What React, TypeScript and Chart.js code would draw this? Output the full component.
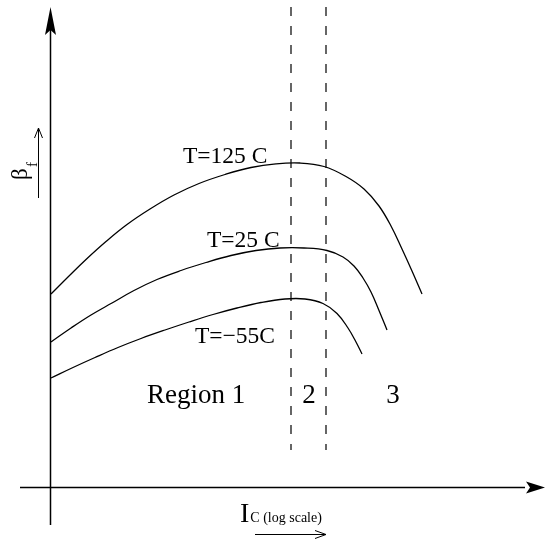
import { useEffect, useRef } from "react";
import { Chart, registerables } from "chart.js";

Chart.register(...registerables);

// Collector current (log axis, arbitrary units) and current gain for each temperature curve
const icHot = [0.2, 3.6, 7.2, 11.2, 15.4, 20, 24.8, 29.8, 35, 40.2, 45.2, 50, 54.8, 59.2, 62.8, 65.8, 68.2, 70.4, 72.4, 74.4];
const betaHot = [38.6, 42, 45.5, 49.1, 52.5, 55.6, 58.4, 60.7, 62.5, 63.9, 64.64, 64.8, 64.1, 62.1, 59.6, 56.2, 52.2, 47.6, 43.2, 38.6];

const icRoom = [0.2, 4.2, 8.2, 12.4, 16.8, 21.4, 26.2, 31.2, 36.2, 41.2, 46, 50.8, 55.4, 58.6, 60.8, 62.6, 64.2, 65.8, 67.4];
const betaRoom = [29, 31.8, 34.4, 36.8, 39.3, 41.5, 43.3, 44.9, 46.3, 47.3, 47.8, 47.8, 47.3, 46, 44.2, 41.8, 39, 35.3, 31.4];

const icCold = [0.2, 4.6, 9, 13.6, 18.2, 23, 27.8, 32.6, 37.4, 42.2, 47, 51, 54.6, 57.4, 59.6, 61.2, 62.4];
const betaCold = [21.8, 23.9, 25.9, 27.9, 29.7, 31.4, 33, 34.5, 35.8, 36.9, 37.6, 37.6, 36.7, 34.7, 31.8, 29, 26.6];

// Region boundaries on the Ic axis and the vertical extent of the dashed markers
const regionBounds = [48.2, 55.2];
const boundTop = 96;
const boundBottom = 7.4;

const curveLabels = ["T=125 C", "T=25 C", "T=\u221255C"];
const regionLabels = ["Region 1", "2", "3"];

const SERIF = '"Liberation Serif", "Times New Roman", serif';

const toPoints = (xs: number[], ys: number[]) => xs.map((x, i) => ({ x, y: ys[i] }));

const sketchPlugin = {
  id: "sketch",
  afterDatasetsDraw(chart: any) {
    const ctx: CanvasRenderingContext2D = chart.ctx;
    const X = (v: number) => chart.scales.x.getPixelForValue(v);
    const Y = (v: number) => chart.scales.y.getPixelForValue(v);
    ctx.save();
    ctx.strokeStyle = "#000";
    ctx.fillStyle = "#000";

    // axes
    const ox = X(0) + 0.5;
    const oy = Y(0) + 0.5;
    ctx.lineWidth = 1.5;
    ctx.beginPath();
    ctx.moveTo(ox, Y(-7.6));
    ctx.lineTo(ox, Y(92));
    ctx.moveTo(X(-6), oy);
    ctx.lineTo(X(95), oy);
    ctx.stroke();

    // filled arrowheads
    const yTip = Y(96);
    ctx.beginPath();
    ctx.moveTo(ox, yTip);
    ctx.lineTo(ox - 5.5, yTip + 28);
    ctx.lineTo(ox, yTip + 23);
    ctx.lineTo(ox + 5.5, yTip + 28);
    ctx.closePath();
    ctx.fill();
    const xTip = X(99);
    ctx.beginPath();
    ctx.moveTo(xTip, oy);
    ctx.lineTo(xTip - 19, oy - 6);
    ctx.lineTo(xTip - 15, oy);
    ctx.lineTo(xTip - 19, oy + 6);
    ctx.closePath();
    ctx.fill();

    // curve labels
    ctx.textBaseline = "alphabetic";
    ctx.textAlign = "left";
    ctx.font = `23.5px ${SERIF}`;
    ctx.fillText(curveLabels[0], X(26.6), Y(64.8));
    ctx.fillText(curveLabels[1], X(31.4), Y(48));
    ctx.fillText(curveLabels[2], X(29), Y(28.8));

    // region labels
    ctx.font = `27px ${SERIF}`;
    ctx.fillText(regionLabels[0], X(19.4), Y(16.8));
    ctx.textAlign = "center";
    ctx.fillText(regionLabels[1], X(51.8), Y(16.8));
    ctx.fillText(regionLabels[2], X(68.6), Y(16.8));

    // x-axis title: I_C (log scale) with an arrow underneath
    ctx.textAlign = "left";
    ctx.font = `28px ${SERIF}`;
    const ix = X(38);
    const iy = Y(-7);
    ctx.fillText("I", ix, iy);
    const iw = ctx.measureText("I").width;
    ctx.font = `14px ${SERIF}`;
    ctx.fillText("C (log scale)", ix + iw + 1, iy);
    ctx.lineWidth = 1;
    const ay = Y(-9.4) + 0.5;
    const ax0 = X(41);
    const ax1 = X(55.2);
    ctx.beginPath();
    ctx.moveTo(ax0, ay);
    ctx.lineTo(ax1, ay);
    ctx.moveTo(ax1 - 11, ay - 4);
    ctx.lineTo(ax1, ay);
    ctx.lineTo(ax1 - 11, ay + 4);
    ctx.stroke();

    // y-axis title: beta_f rotated, with an arrow beside it
    ctx.save();
    ctx.translate(X(-4.6), Y(61.4));
    ctx.rotate(-Math.PI / 2);
    ctx.font = `23px ${SERIF}`;
    ctx.fillText("\u03b2", 0, 0);
    ctx.font = `15px ${SERIF}`;
    ctx.fillText("f", 13, 9.5);
    ctx.restore();
    const bx = X(-2.4) + 0.5;
    const by0 = Y(57.8);
    const by1 = Y(71.8);
    ctx.beginPath();
    ctx.moveTo(bx, by0);
    ctx.lineTo(bx, by1);
    ctx.moveTo(bx - 4, by1 + 10);
    ctx.lineTo(bx, by1);
    ctx.lineTo(bx + 4, by1 + 10);
    ctx.stroke();

    ctx.restore();
  },
};

export default function App() {
  const canvasRef = useRef<HTMLCanvasElement | null>(null);

  useEffect(() => {
    if (!canvasRef.current) return;
    const curve = (data: { x: number; y: number }[]) => ({
      data,
      showLine: true,
      borderColor: "#000",
      borderWidth: 1.3,
      pointRadius: 0,
      tension: 0.4,
      fill: false,
    });
    const boundary = (x: number) => ({
      data: [
        { x, y: boundTop },
        { x, y: boundBottom },
      ],
      showLine: true,
      borderColor: "#000",
      borderWidth: 1.2,
      borderDash: [9, 10],
      pointRadius: 0,
      fill: false,
    });
    const chart = new Chart(canvasRef.current, {
      type: "scatter",
      data: {
        datasets: [
          curve(toPoints(icHot, betaHot)),
          curve(toPoints(icRoom, betaRoom)),
          curve(toPoints(icCold, betaCold)),
          boundary(regionBounds[0]),
          boundary(regionBounds[1]),
        ],
      },
      options: {
        animation: false,
        responsive: false,
        devicePixelRatio: 1,
        layout: { padding: 0 },
        plugins: {
          legend: { display: false },
          tooltip: { enabled: false },
          title: { display: false },
        },
        scales: {
          x: { type: "linear", min: -10, max: 99, display: false },
          y: { type: "linear", min: -11, max: 97.4, display: false },
        },
      },
      plugins: [sketchPlugin],
    });
    return () => chart.destroy();
  }, []);

  return (
    <div style={{ position: "fixed", left: 0, top: 0, width: 545, height: 542, background: "#fff" }}>
      <canvas ref={canvasRef} width={545} height={542} />
    </div>
  );
}
